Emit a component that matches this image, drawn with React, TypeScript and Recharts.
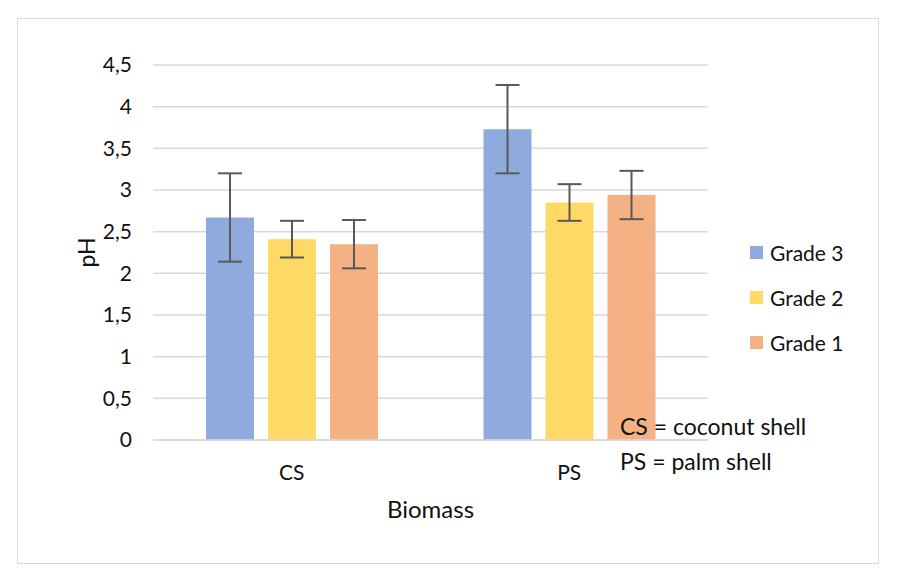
import React from 'react'
import {
  BarChart, Bar, XAxis, YAxis, CartesianGrid, ErrorBar,
} from 'recharts'

// ─── pH by biomass and grade ────────────────────────────────────────
const BIOMASS = ['CS', 'PS']
const GRADE3 = [2.67, 3.73]
const GRADE2 = [2.41, 2.85]
const GRADE1 = [2.35, 2.94]
const GRADE3_ERR = [0.53, 0.53]
const GRADE2_ERR = [0.22, 0.22]
const GRADE1_ERR = [0.29, 0.29]
const Y_TICKS = [0, 0.5, 1, 1.5, 2, 2.5, 3, 3.5, 4, 4.5]

const SERIES = [
  { key: 'g3', name: 'Grade 3', color: '#8FAADC' },
  { key: 'g2', name: 'Grade 2', color: '#FFD966' },
  { key: 'g1', name: 'Grade 1', color: '#F4B183' },
]

const data = BIOMASS.map((b, i) => ({
  biomass: b,
  g3: GRADE3[i], g3Err: GRADE3_ERR[i],
  g2: GRADE2[i], g2Err: GRADE2_ERR[i],
  g1: GRADE1[i], g1Err: GRADE1_ERR[i],
}))

const FONT = 'Lato, "Open Sans", sans-serif'
const TEXT = '#111'

// decimal comma on the value axis
const fmt = (v: number) => String(v).replace('.', ',')

export default function App() {
  return (
    <div style={{ position: 'absolute', left: 0, top: 0, width: 898, height: 583, background: '#fff' }}>
      <div style={{
        position: 'absolute', left: 17, top: 18, width: 862, height: 546,
        border: '1.5px solid #D9D9D9', boxSizing: 'border-box',
      }} />
      <BarChart
        width={898}
        height={583}
        data={data}
        margin={{ top: 65, right: 190, left: 0, bottom: 63 }}
        barCategoryGap="19%"
        barGap={14}
        barSize={48}
      >
        <CartesianGrid vertical={false} stroke="#D9D9D9" strokeWidth={1.5} />
        <XAxis
          dataKey="biomass"
          axisLine={{ stroke: '#D9D9D9', strokeWidth: 1.5 }}
          tickLine={false}
          tickSize={0}
          tickMargin={25}
          height={80}
          tick={{ fontSize: 21, fill: TEXT, fontFamily: FONT }}
          label={{ value: 'Biomass', position: 'insideBottom', offset: 2, fontSize: 24, fill: TEXT, fontFamily: FONT }}
        />
        <YAxis
          width={153}
          domain={[0, 4.5]}
          ticks={Y_TICKS}
          tickFormatter={fmt}
          axisLine={false}
          tickLine={false}
          tickSize={0}
          tickMargin={21}
          tick={{ fontSize: 21, fill: TEXT, fontFamily: FONT }}
          label={{
            value: 'pH', angle: -90, position: 'insideLeft', offset: 87,
            fontSize: 23, fill: TEXT, fontFamily: FONT, style: { textAnchor: 'middle' },
          }}
        />
        {SERIES.map((s) => (
          <Bar key={s.key} dataKey={s.key} name={s.name} fill={s.color} isAnimationActive={false}>
            <ErrorBar dataKey={`${s.key}Err`} width={12} stroke="#595959" strokeWidth={2} />
          </Bar>
        ))}
      </BarChart>
      {/* legend, stacked to the right of the plot */}
      <div style={{ position: 'absolute', left: 750, top: 230, fontFamily: FONT, fontSize: 21, color: TEXT }}>
        {SERIES.map((s) => (
          <div key={s.key} style={{ display: 'flex', alignItems: 'center', height: 45 }}>
            <span style={{ width: 13, height: 13, background: s.color, marginRight: 7 }} />
            {s.name}
          </div>
        ))}
      </div>
      <div style={{ position: 'absolute', left: 620, top: 409, fontFamily: FONT, fontSize: 23, color: TEXT, lineHeight: '35px' }}>
        <div>CS = coconut shell</div>
        <div>PS = palm shell</div>
      </div>
    </div>
  )
}
